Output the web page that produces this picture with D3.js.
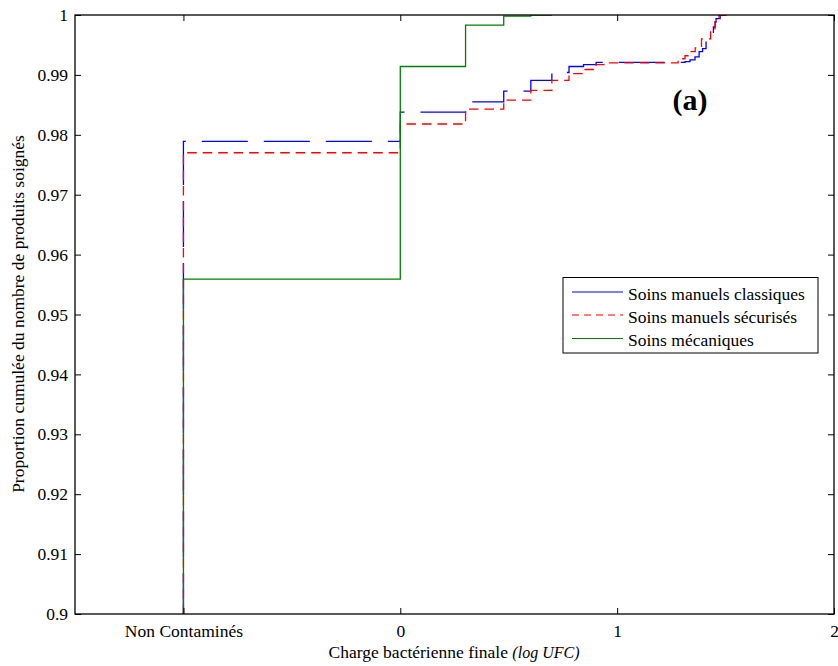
<!DOCTYPE html>
<html><head><meta charset="utf-8">
<script src="https://cdn.jsdelivr.net/npm/d3@7"></script>
<style>body{margin:0;background:#fff}svg{display:block}text{font-family:"Liberation Serif","Times New Roman",serif;fill:#000}</style>
</head><body><svg id="c" width="838" height="666"></svg>
<script>
// ---- data ----
const xTickValues = [-1, 0, 1, 2];
const xTickLabels = ["Non Contaminés", "0", "1", "2"];
const yTickValues = [0.9, 0.91, 0.92, 0.93, 0.94, 0.95, 0.96, 0.97, 0.98, 0.99, 1];
const yTickLabels = ["0.9", "0.91", "0.92", "0.93", "0.94", "0.95", "0.96", "0.97", "0.98", "0.99", "1"];
const seriesNames = ["Soins manuels classiques", "Soins manuels sécurisés", "Soins mécaniques"];
// x: log UFC (-1 = "Non Contaminés"), y: cumulative proportion (stairs)
const classiquesX = [-1, 0, 0.301, 0.477, 0.602, 0.699, 0.778, 0.845, 0.903, 1.313, 1.336, 1.359, 1.378, 1.394, 1.41, 1.431, 1.444, 1.452, 1.456, 1.475, 1.505];
const classiquesY = [0.9789, 0.9838, 0.9855, 0.9873, 0.9891, 0.9904, 0.9914, 0.9917, 0.9921, 0.9922, 0.9925, 0.9930, 0.9939, 0.9944, 0.9961, 0.9969, 0.9980, 0.9988, 0.9994, 1.0, 1.0];
const securisesX = [-1, 0, 0.301, 0.477, 0.602, 0.699, 0.778, 0.845, 0.903, 0.954, 1.281, 1.313, 1.327, 1.36, 1.389, 1.431, 1.451, 1.47, 1.5];
const securisesY = [0.9770, 0.9818, 0.9843, 0.9858, 0.9874, 0.9891, 0.9902, 0.9909, 0.9917, 0.9920, 0.9927, 0.9932, 0.9939, 0.9945, 0.9960, 0.9974, 0.9989, 1.0, 1.0];
const mecaniquesX = [-1, 0, 0.301, 0.477, 0.602, 0.699];
const mecaniquesY = [0.9559, 0.9914, 0.9983, 0.9998, 1.0, 1.0];
const yStart = 0.9;

// ---- layout ----
const L = 75, R = 834, T = 15, B = 614;
const svg = d3.select("#c");
const x = d3.scaleLinear().domain([-1.5, 2]).range([L, R]);
const y = d3.scaleLinear().domain([0.9, 1]).range([B, T]);

svg.append("defs").append("clipPath").attr("id", "clip")
  .append("rect").attr("x", L).attr("y", T).attr("width", R - L).attr("height", B - T);

const series = [
  {xs: classiquesX, ys: classiquesY, color: "#0000ff", dash: "46,16", offset: 5, ldash: null},
  {xs: securisesX, ys: securisesY, color: "#ff0000", dash: "9.5,6", offset: 0, ldash: "7,5"},
  {xs: mecaniquesX, ys: mecaniquesY, color: "#008000", dash: null, offset: 0, ldash: null}
];

const line = d3.line().x(d => x(d[0])).y(d => y(d[1])).curve(d3.curveStepAfter);
const g = svg.append("g").attr("clip-path", "url(#clip)");
series.forEach(s => {
  const pts = [[s.xs[0], yStart]].concat(s.xs.map((v, i) => [v, s.ys[i]]));
  const p = g.append("path").attr("d", line(pts)).attr("fill", "none")
    .attr("stroke", s.color).attr("stroke-width", 1.3);
  if (s.dash) p.attr("stroke-dasharray", s.dash).attr("stroke-dashoffset", s.offset);
});

// ---- axes ----
const tickLen = 6;
const axB = svg.append("g").attr("transform", `translate(0,${B})`)
  .call(d3.axisBottom(x).tickValues(xTickValues).tickSize(-tickLen).tickPadding(11)
    .tickFormat((d, i) => xTickLabels[i]));
const axT = svg.append("g").attr("transform", `translate(0,${T})`)
  .call(d3.axisTop(x).tickValues(xTickValues).tickSize(-tickLen).tickFormat(""));
const axL = svg.append("g").attr("transform", `translate(${L},0)`)
  .call(d3.axisLeft(y).tickValues(yTickValues).tickSize(-tickLen).tickPadding(7)
    .tickFormat((d, i) => yTickLabels[i]));
const axR = svg.append("g").attr("transform", `translate(${R},0)`)
  .call(d3.axisRight(y).tickValues(yTickValues).tickSize(-tickLen).tickFormat(""));
[axB, axT, axL, axR].forEach(a => {
  a.attr("font-family", null);
  a.select(".domain").remove();
  a.selectAll(".tick line").attr("stroke", "#000");
  a.selectAll("text").style("font-family", '"Liberation Serif", "Times New Roman", serif').style("font-size", "17.5px").attr("fill", "#000");
});
axB.selectAll(".tick text").attr("dy", "0.71em");
svg.append("rect").attr("x", L).attr("y", T).attr("width", R - L).attr("height", B - T)
  .attr("fill", "none").attr("stroke", "#000").attr("stroke-width", 1.3);

// ---- axis titles ----
const xt = svg.append("text").attr("x", 454).attr("y", 658).attr("text-anchor", "middle").style("font-size", "17.5px");
xt.append("tspan").text("Charge bactérienne finale ");
xt.append("tspan").style("font-style", "italic").style("font-size", "16px").text("(log UFC)");
svg.append("text").attr("transform", "translate(24,314) rotate(-90)").attr("text-anchor", "middle")
  .style("font-size", "17.5px").text("Proportion cumulée du nombre de produits soignés");

svg.append("text").attr("x", 690).attr("y", 110).attr("text-anchor", "middle")
  .style("font-size", "30px").style("font-weight", "bold").text("(a)");

// ---- legend ----
const lg = svg.append("g");
lg.append("rect").attr("x", 563).attr("y", 277.5).attr("width", 255).attr("height", 75.5)
  .attr("fill", "#fff").attr("stroke", "#000").attr("stroke-width", 1);
const rowsY = [292, 315, 338.5];
series.forEach((s, i) => {
  const l = lg.append("line").attr("x1", 572).attr("x2", 623).attr("y1", rowsY[i]).attr("y2", rowsY[i])
    .attr("stroke", s.color).attr("stroke-width", 1.2);
  if (s.ldash) l.attr("stroke-dasharray", s.ldash);
  lg.append("text").attr("x", 628).attr("y", rowsY[i] + 7.5).style("font-size", "17.5px").text(seriesNames[i]);
});
</script></body></html>
